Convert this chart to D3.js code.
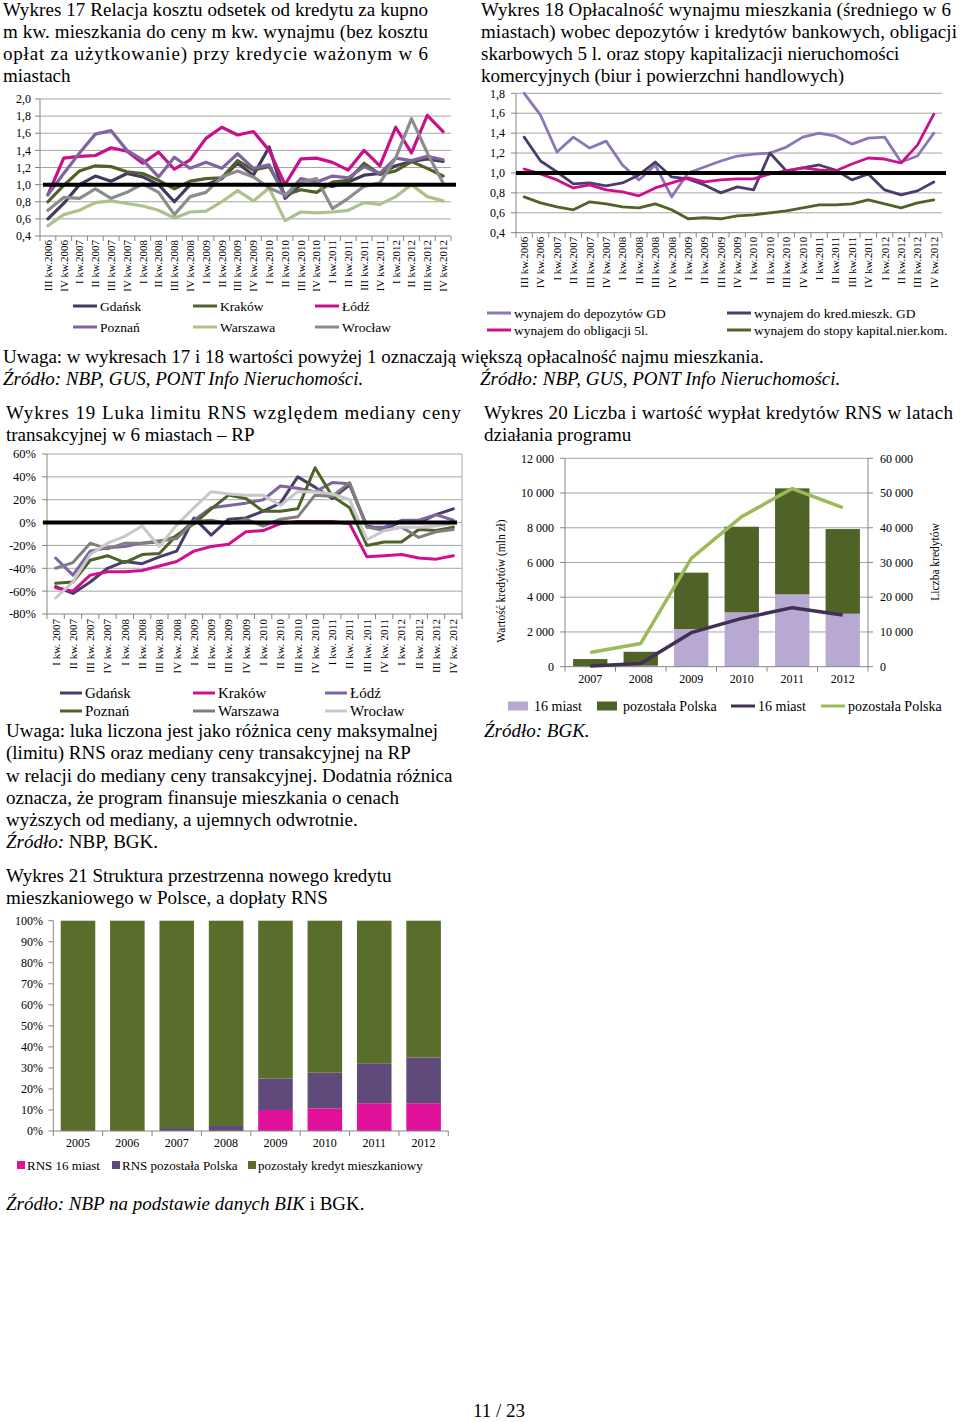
<!DOCTYPE html>
<html><head><meta charset="utf-8">
<script src="https://cdn.jsdelivr.net/npm/d3@7"></script>
<style>
body{margin:0;background:#fff}
svg{display:block;font-family:"Liberation Serif","Times New Roman",serif}
</style></head><body>
<svg id="c" width="960" height="1422"></svg>
<script>
// ---------- DATA ----------
const quarters17 = ["III kw.2006","IV kw.2006","I kw.2007","II kw.2007","III kw.2007","IV kw.2007","I kw.2008","II kw.2008","III kw.2008","IV kw.2008","I kw.2009","II kw.2009","III kw.2009","IV kw.2009","I kw.2010","II kw.2010","III kw.2010","IV kw.2010","I kw.2011","II kw.2011","III kw.2011","IV kw.2011","I kw.2012","II kw.2012","III kw.2012","IV kw.2012"];
const yTicks17 = [0.4,0.6,0.8,1.0,1.2,1.4,1.6,1.8,2.0];
const gdansk17   = [0.60,0.78,1.00,1.10,1.04,1.13,1.09,1.00,0.80,1.00,1.00,1.07,1.25,1.11,1.44,0.84,1.00,1.01,0.98,1.03,1.11,1.13,1.22,1.27,1.30,1.27];
const krakow17   = [0.80,0.99,1.16,1.22,1.21,1.15,1.13,1.05,0.95,1.04,1.07,1.08,1.28,1.17,1.21,0.88,0.94,0.91,1.03,1.05,1.25,1.12,1.16,1.27,1.19,1.10];
const lodz17     = [0.88,1.31,1.33,1.34,1.43,1.39,1.25,1.38,1.18,1.29,1.54,1.67,1.58,1.62,1.40,1.00,1.30,1.31,1.26,1.17,1.40,1.22,1.67,1.37,1.81,1.62];
const poznan17   = [0.88,1.13,1.37,1.59,1.63,1.40,1.29,1.09,1.32,1.19,1.26,1.19,1.36,1.19,1.23,0.86,1.07,1.03,1.10,1.08,1.21,1.13,1.31,1.28,1.33,1.29];
const warszawa17 = [0.52,0.65,0.70,0.79,0.81,0.78,0.75,0.70,0.61,0.68,0.69,0.80,0.93,0.81,0.96,0.58,0.68,0.67,0.68,0.70,0.79,0.77,0.86,1.00,0.86,0.81];
const wroclaw17  = [0.70,0.85,0.84,0.95,0.84,0.91,1.01,0.91,0.65,0.86,0.91,1.09,1.16,1.09,0.96,0.88,1.03,1.07,0.72,0.84,0.98,1.02,1.31,1.77,1.37,1.02];

const quarters18 = quarters17.slice();
const yTicks18 = [0.4,0.6,0.8,1.0,1.2,1.4,1.6,1.8];
const depozyty18  = [1.80,1.58,1.21,1.36,1.25,1.32,1.08,0.93,1.08,0.76,1.00,1.06,1.12,1.17,1.19,1.20,1.26,1.36,1.40,1.37,1.29,1.35,1.36,1.11,1.17,1.40];
const kredyty18   = [1.36,1.12,1.01,0.89,0.90,0.87,0.90,0.98,1.11,0.96,0.94,0.88,0.80,0.86,0.83,1.20,1.02,1.05,1.08,1.03,0.93,0.99,0.83,0.78,0.82,0.91];
const obligacje18 = [1.04,0.99,0.93,0.85,0.88,0.83,0.81,0.77,0.85,0.90,0.95,0.91,0.93,0.94,0.94,0.99,1.02,1.05,1.03,1.02,1.09,1.15,1.14,1.10,1.28,1.59];
const kapital18   = [0.76,0.70,0.66,0.63,0.71,0.69,0.66,0.65,0.69,0.63,0.54,0.55,0.54,0.57,0.58,0.60,0.62,0.65,0.68,0.68,0.69,0.73,0.69,0.65,0.70,0.73];

const quarters19 = ["I kw. 2007","II kw. 2007","III kw. 2007","IV kw. 2007","I kw. 2008","II kw. 2008","III kw. 2008","IV kw. 2008","I kw. 2009","II kw. 2009","III kw. 2009","IV kw. 2009","I kw. 2010","II kw. 2010","III kw. 2010","IV kw. 2010","I kw. 2011","II kw. 2011","III kw. 2011","IV kw. 2011","I kw. 2012","II kw. 2012","III kw. 2012","IV kw. 2012"];
const yTicks19 = [-80,-60,-40,-20,0,20,40,60];
const gdansk19   = [-56,-62,-52,-40,-34,-36,-30,-25,4,-11,3,4,10,17,40,31,21,33,-3,-6,1,0,7,12];
const krakow19   = [-57,-60,-46,-43,-43,-42,-38,-34,-25,-21,-19,-8,-7,-1,1,1,1,-1,-30,-29,-28,-31,-32,-29];
const lodz19     = [-31,-46,-25,-22,-21,-18,-17,-12,2,13,15,17,20,32,30,27,35,34,-4,-4,2,2,7,2];
const poznan19   = [-53,-52,-33,-29,-35,-28,-27,-11,-1,12,24,21,10,10,12,48,23,13,-20,-17,-17,-6,-7,-4];
const warszawa19 = [-40,-35,-18,-23,-18,-18,-16,-14,1,2,-1,3,-3,3,5,24,23,35,-4,-7,-4,-13,-8,-6];
const wroclaw19  = [-66,-52,-28,-18,-12,-3,-21,-2,13,27,25,24,24,15,27,27,25,20,-15,-7,-4,-4,-3,-1];

const years20 = ["2007","2008","2009","2010","2011","2012"];
const yTicks20L = [0,2000,4000,6000,8000,10000,12000];
const yTicks20R = [0,10000,20000,30000,40000,50000,60000];
const value16miast20 = [10,60,2170,3130,4165,3050];
const valueReszta20  = [430,800,3245,4930,6105,4875];
const count16miast20 = [200,900,9800,13900,17000,14900];
const countReszta20  = [4100,6700,31200,43200,51300,45800];

const years21 = ["2005","2006","2007","2008","2009","2010","2011","2012"];
const yTicks21 = [0,10,20,30,40,50,60,70,80,90,100];
const rns16miast21 = [0,0,0,0,10.0,10.8,13.2,13.2];
const rnsReszta21  = [0,0,1.4,2.4,15.0,16.9,19.0,21.7];
const pozostaly21  = years21.map((d,i)=>100-rns16miast21[i]-rnsReszta21[i]);

// ---------- DRAW ----------
const svg = d3.select("#c");
svg.append("rect").attr("width",960).attr("height",1422).attr("fill","#fff");

const C = {
  dpurple:"#46395f", olive:"#4f6228", magenta:"#c8108a", mpurple:"#8064a2",
  lgreen:"#adc28a", gray:"#8c8c8c", lgray:"#c8c8c8", grid:"#a6a6a6", axis:"#868686"
};

function txt(x,y,parts,o={}){
  const t = svg.append("text").attr("x",x).attr("y",y)
    .attr("font-size",o.size||19).attr("fill","#000")
    .attr("text-anchor",o.anchor||"start");
  if(o.width) t.attr("textLength",o.width).attr("lengthAdjust","spacing");
  (Array.isArray(parts)?parts:[[parts,!!o.italic]]).forEach(p=>{
    t.append("tspan").attr("font-style",p[1]?"italic":"normal").text(p[0]);
  });
  return t;
}

function lineChart(o){
  const g = svg.append("g");
  const x = d3.scaleBand().domain(o.cats).range([o.x0,o.x1]);
  const y = d3.scaleLinear().domain(o.domain).range([o.yb,o.yt]);
  const yb = y(o.domain[0]);
  g.selectAll("line.grid").data(o.ticks.slice(1)).join("line")
    .attr("x1",o.x0).attr("x2",o.x1).attr("y1",d=>y(d)).attr("y2",d=>y(d))
    .attr("stroke",C.grid).attr("stroke-width",1);
  if(o.border){
    g.append("line").attr("x1",o.x1).attr("x2",o.x1).attr("y1",y(o.domain[1])).attr("y2",yb)
      .attr("stroke",C.grid);
  }
  g.append("line").attr("x1",o.x0).attr("x2",o.x0).attr("y1",yb).attr("y2",y(o.domain[1]))
    .attr("stroke",C.axis);
  g.selectAll("line.yt").data(o.ticks).join("line")
    .attr("x1",o.x0-5).attr("x2",o.x0).attr("y1",d=>y(d)).attr("y2",d=>y(d)).attr("stroke",C.axis);
  g.selectAll("text.yl").data(o.ticks).join("text")
    .attr("x",o.labelX).attr("y",d=>y(d)).attr("dy","0.35em").attr("text-anchor","end")
    .attr("font-size",o.ySize).text(o.fmt);
  g.append("line").attr("x1",o.x0).attr("x2",o.x1).attr("y1",yb).attr("y2",yb).attr("stroke",C.axis);
  const bounds = o.cats.map(c=>x(c)).concat([x(o.cats[o.cats.length-1])+x.bandwidth()]);
  g.selectAll("line.xt").data(bounds).join("line")
    .attr("x1",d=>d).attr("x2",d=>d).attr("y1",yb).attr("y2",yb+5).attr("stroke",C.axis);
  g.selectAll("text.xl").data(o.cats).join("text")
    .attr("transform",d=>`translate(${x(d)+x.bandwidth()/2},${yb+o.xlOff}) rotate(-90)`)
    .attr("text-anchor","end").attr("dy","0.35em").attr("font-size",o.xSize).text(d=>d);
  const line = d3.line().x((d,i)=>x(o.cats[i])+x.bandwidth()/2).y(d=>y(d));
  o.series.forEach(s=>{
    g.append("path").attr("d",line(s.values)).attr("fill","none")
      .attr("stroke",s.color).attr("stroke-width",o.lw).attr("stroke-linejoin","round").attr("stroke-linecap","round");
  });
  g.append("line").attr("x1",o.x0+o.refL).attr("x2",o.x1+o.refR)
    .attr("y1",y(o.ref)).attr("y2",y(o.ref)).attr("stroke","#000").attr("stroke-width",4);
  return {x,y};
}

function lineLegend(items, cols, rows, sw, size){
  items.forEach((it,i)=>{
    const cx = cols[i%cols.length], cy = rows[Math.floor(i/cols.length)];
    svg.append("line").attr("x1",cx).attr("x2",cx+sw).attr("y1",cy).attr("y2",cy)
      .attr("stroke",it.color).attr("stroke-width",3);
    svg.append("text").attr("x",cx+sw+3).attr("y",cy).attr("dy","0.35em")
      .attr("font-size",size).text(it.label);
  });
}

const fmtComma = d=>d.toFixed(1).replace(".",",");

// ---- Chart 17 ----
txt(3,16,"Wykres 17 Relacja kosztu odsetek od kredytu za kupno",{width:425});
txt(3,38,"m kw. mieszkania do ceny m kw. wynajmu (bez kosztu",{width:425});
txt(3,60,"opłat za użytkowanie) przy kredycie ważonym w 6",{width:425});
txt(3,82,"miastach");
const s17 = [
  {label:"Gdańsk",color:C.dpurple,values:gdansk17},
  {label:"Kraków",color:C.olive,values:krakow17},
  {label:"Łódź",color:C.magenta,values:lodz17},
  {label:"Poznań",color:C.mpurple,values:poznan17},
  {label:"Warszawa",color:C.lgreen,values:warszawa17},
  {label:"Wrocław",color:C.gray,values:wroclaw17}
];
lineChart({cats:quarters17,series:s17,x0:40,x1:451,yt:99,yb:236,domain:[0.4,2.0],ticks:yTicks17,
  fmt:fmtComma,labelX:31,ySize:12,xSize:11,xlOff:4,lw:3.2,ref:1.0,refL:3,refR:5});
lineLegend(s17,[73,193,315],[306,327],24,13.5);

// ---- Chart 18 ----
txt(481,16,"Wykres 18 Opłacalność wynajmu mieszkania (średniego w 6",{width:470});
txt(481,38,"miastach) wobec depozytów i kredytów bankowych, obligacji",{width:476});
txt(481,60,"skarbowych 5 l. oraz stopy kapitalizacji nieruchomości");
txt(481,82,"komercyjnych (biur i powierzchni handlowych)");
const s18 = [
  {label:"wynajem do depozytów GD",color:"#8d75b8",values:depozyty18},
  {label:"wynajem do kred.mieszk. GD",color:"#4b3d6b",values:kredyty18},
  {label:"wynajem do obligacji 5l.",color:"#cc0f8c",values:obligacje18},
  {label:"wynajem do stopy kapital.nier.kom.",color:C.olive,values:kapital18}
];
lineChart({cats:quarters18,series:s18,x0:516,x1:942,yt:93.3,yb:232.7,domain:[0.4,1.8],ticks:yTicks18,
  fmt:fmtComma,labelX:505,ySize:12,xSize:11,xlOff:4,lw:2.8,ref:1.0,refL:0,refR:4});
lineLegend(s18,[487,727],[313,330],24,13.5);

txt(3,363,"Uwaga: w wykresach 17 i 18 wartości powyżej 1 oznaczają większą opłacalność najmu mieszkania.");
txt(3,385,"Źródło: NBP, GUS, PONT Info Nieruchomości.",{italic:true});
txt(480,385,"Źródło: NBP, GUS, PONT Info Nieruchomości.",{italic:true});

// ---- Chart 19 ----
txt(6,419,"Wykres 19 Luka limitu RNS względem mediany ceny",{width:455});
txt(6,441,"transakcyjnej w 6 miastach – RP");
const s19 = [
  {label:"Gdańsk",color:"#4b3d6b",values:gdansk19},
  {label:"Kraków",color:"#d0108e",values:krakow19},
  {label:"Łódź",color:C.mpurple,values:lodz19},
  {label:"Poznań",color:C.olive,values:poznan19},
  {label:"Warszawa",color:"#7f7f7f",values:warszawa19},
  {label:"Wrocław",color:C.lgray,values:wroclaw19}
];
lineChart({cats:quarters19,series:s19,x0:47,x1:462,yt:454,yb:614,domain:[-80,60],ticks:yTicks19,
  fmt:d=>d+"%",labelX:36,ySize:12.5,xSize:11,xlOff:5,lw:3,ref:0,refL:-4,refR:-5,border:true});
lineLegend(s19,[60,193,325],[693,711],22,15);

[ "Uwaga: luka liczona jest jako różnica ceny maksymalnej",
  "(limitu) RNS oraz mediany ceny transakcyjnej na RP",
  "w relacji do mediany ceny transakcyjnej. Dodatnia różnica",
  "oznacza, że program finansuje mieszkania o cenach",
  "wyższych od mediany, a ujemnych odwrotnie."
].forEach((s,i)=>txt(6,[737,759,782,804,826][i],s));
txt(6,848,[["Źródło:",true],[" NBP, BGK.",false]]);

// ---- Chart 20 ----
txt(484,419,"Wykres 20 Liczba i wartość wypłat kredytów RNS w latach",{width:469});
txt(484,441,"działania programu");
(function(){
  const g = svg.append("g");
  const x0=565,x1=868,yt=458.3,yb=666.7;
  const x = d3.scaleBand().domain(years20).range([x0,x1]).paddingInner(0.32).paddingOuter(0.16);
  const yL = d3.scaleLinear().domain([0,12000]).range([yb,yt]);
  const yR = d3.scaleLinear().domain([0,60000]).range([yb,yt]);
  const fmtSp = d=>d3.format(",")(d).replace(/,/g," ");
  g.selectAll("line.grid").data(yTicks20L.slice(1)).join("line")
    .attr("x1",x0).attr("x2",x1).attr("y1",d=>yL(d)).attr("y2",d=>yL(d)).attr("stroke",C.grid);
  const stack = d3.stack().keys(["a","b"])(years20.map((y,i)=>({year:y,a:value16miast20[i],b:valueReszta20[i]})));
  const cols = ["#b8a9d2","#4f6228"];
  stack.forEach((layer,k)=>{
    g.selectAll(null).data(layer).join("rect")
      .attr("x",d=>x(d.data.year)).attr("width",x.bandwidth())
      .attr("y",d=>yL(d[1])).attr("height",d=>yL(d[0])-yL(d[1])).attr("fill",cols[k]);
  });
  g.append("line").attr("x1",x0).attr("x2",x0).attr("y1",yt).attr("y2",yb).attr("stroke",C.axis);
  g.append("line").attr("x1",x1).attr("x2",x1).attr("y1",yt).attr("y2",yb).attr("stroke",C.axis);
  g.append("line").attr("x1",x0).attr("x2",x1).attr("y1",yb).attr("y2",yb).attr("stroke",C.axis);
  g.selectAll("line.tl").data(yTicks20L).join("line").attr("x1",x0-5).attr("x2",x0)
    .attr("y1",d=>yL(d)).attr("y2",d=>yL(d)).attr("stroke",C.axis);
  g.selectAll("line.tr").data(yTicks20R).join("line").attr("x1",x1).attr("x2",x1+5)
    .attr("y1",d=>yR(d)).attr("y2",d=>yR(d)).attr("stroke",C.axis);
  const bounds = years20.map(c=>x(c)-x.step()*x.paddingInner()/2).concat([x1]);
  bounds[0]=x0;
  g.selectAll("line.xt").data(bounds).join("line").attr("x1",d=>d).attr("x2",d=>d)
    .attr("y1",yb).attr("y2",yb+5).attr("stroke",C.axis);
  g.selectAll("text.yl").data(yTicks20L).join("text").attr("x",554).attr("y",d=>yL(d)).attr("dy","0.35em")
    .attr("text-anchor","end").attr("font-size",12).text(fmtSp);
  g.selectAll("text.yr").data(yTicks20R).join("text").attr("x",880).attr("y",d=>yR(d)).attr("dy","0.35em")
    .attr("text-anchor","start").attr("font-size",12).text(fmtSp);
  g.selectAll("text.xl").data(years20).join("text").attr("x",d=>x(d)+x.bandwidth()/2).attr("y",683)
    .attr("text-anchor","middle").attr("font-size",12).text(d=>d);
  g.append("text").attr("transform","translate(501,581) rotate(-90)").attr("dy","0.35em")
    .attr("text-anchor","middle").attr("font-size",11.5).text("Wartość kredytów (mln zł)");
  g.append("text").attr("transform","translate(935,562) rotate(-90)").attr("dy","0.35em")
    .attr("text-anchor","middle").attr("font-size",11.5).text("Liczba kredytów");
  const line = d3.line().x((d,i)=>x(years20[i])+x.bandwidth()/2).y(d=>yR(d));
  g.append("path").attr("d",line(countReszta20)).attr("fill","none").attr("stroke","#9bbb59").attr("stroke-width",3.5).attr("stroke-linejoin","round");
  g.append("path").attr("d",line(count16miast20)).attr("fill","none").attr("stroke","#403152").attr("stroke-width",3.5).attr("stroke-linejoin","round");
  const lg = [{t:"rect",c:"#b8a9d2",x:508,l:"16 miast"},{t:"rect",c:"#4f6228",x:597,l:"pozostała Polska"},
              {t:"line",c:"#403152",x:731,l:"16 miast"},{t:"line",c:"#9bbb59",x:821,l:"pozostała Polska"}];
  lg.forEach(d=>{
    if(d.t==="rect") svg.append("rect").attr("x",d.x).attr("y",701.5).attr("width",20).attr("height",9).attr("fill",d.c);
    else svg.append("line").attr("x1",d.x).attr("x2",d.x+24).attr("y1",706).attr("y2",706).attr("stroke",d.c).attr("stroke-width",3);
    svg.append("text").attr("x",d.x+(d.t==="rect"?26:27)).attr("y",706).attr("dy","0.35em").attr("font-size",14).text(d.l);
  });
})();
txt(484,737,"Źródło: BGK.",{italic:true});

// ---- Chart 21 ----
txt(6,882,"Wykres 21 Struktura przestrzenna nowego kredytu");
txt(6,904,"mieszkaniowego w Polsce, a dopłaty RNS");
(function(){
  const g = svg.append("g");
  const x0=53.3,x1=448.3,yt=920.7,yb=1131;
  const x = d3.scaleBand().domain(years21).range([x0,x1]).paddingInner(0.3).paddingOuter(0.15);
  const y = d3.scaleLinear().domain([0,100]).range([yb,yt]);
  const data = years21.map((yr,i)=>({year:yr,a:rns16miast21[i],b:rnsReszta21[i],c:pozostaly21[i]}));
  const stack = d3.stack().keys(["a","b","c"])(data);
  const cols = ["#e0109a","#5f4a7b","#5a6e2c"];
  stack.forEach((layer,k)=>{
    g.selectAll(null).data(layer).join("rect")
      .attr("x",d=>x(d.data.year)).attr("width",x.bandwidth())
      .attr("y",d=>y(d[1])).attr("height",d=>Math.max(0,y(d[0])-y(d[1]))).attr("fill",cols[k]);
  });
  g.append("line").attr("x1",x0).attr("x2",x0).attr("y1",yt).attr("y2",yb).attr("stroke",C.axis);
  g.append("line").attr("x1",x0).attr("x2",x1).attr("y1",yb).attr("y2",yb).attr("stroke",C.axis);
  g.selectAll("line.yt").data(yTicks21).join("line").attr("x1",x0-5).attr("x2",x0)
    .attr("y1",d=>y(d)).attr("y2",d=>y(d)).attr("stroke",C.axis);
  const bounds = years21.map(c=>x(c)-x.step()*x.paddingInner()/2).concat([x1]);
  bounds[0]=x0;
  g.selectAll("line.xt").data(bounds).join("line").attr("x1",d=>d).attr("x2",d=>d)
    .attr("y1",yb).attr("y2",yb+5).attr("stroke",C.axis);
  g.selectAll("text.yl").data(yTicks21).join("text").attr("x",43).attr("y",d=>y(d)).attr("dy","0.35em")
    .attr("text-anchor","end").attr("font-size",12).text(d=>d+"%");
  g.selectAll("text.xl").data(years21).join("text").attr("x",d=>x(d)+x.bandwidth()/2).attr("y",1147)
    .attr("text-anchor","middle").attr("font-size",12).text(d=>d);
  const lg = [{c:cols[0],x:17,l:"RNS 16 miast"},{c:cols[1],x:112,l:"RNS pozostała Polska"},{c:cols[2],x:248,l:"pozostały kredyt mieszkaniowy"}];
  lg.forEach(d=>{
    svg.append("rect").attr("x",d.x).attr("y",1161).attr("width",8).attr("height",8).attr("fill",d.c);
    svg.append("text").attr("x",d.x+10).attr("y",1165).attr("dy","0.35em").attr("font-size",13).text(d.l);
  });
})();
txt(6,1210,[["Źródło: NBP na podstawie danych BIK",true],[" i BGK.",false]]);

txt(499,1417,"11 / 23",{size:19,anchor:"middle"});
</script>
</body></html>
